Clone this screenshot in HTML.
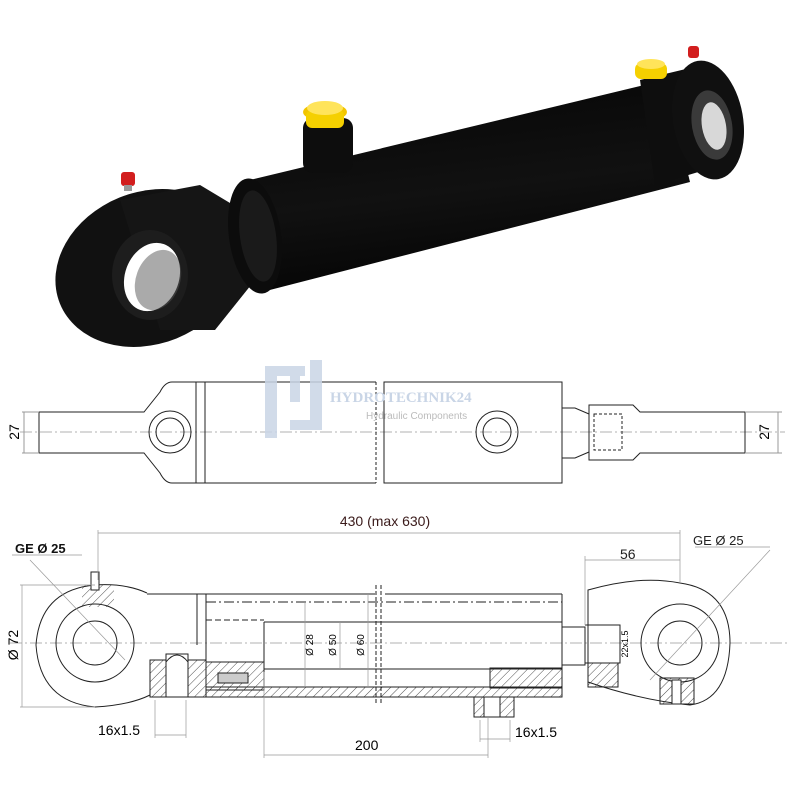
<!DOCTYPE html>
<html><head><meta charset="utf-8"><style>
html,body{margin:0;padding:0;background:#fff;width:800px;height:800px;overflow:hidden}
svg{display:block}
text{font-family:"Liberation Sans",Arial,sans-serif}
</style></head><body>
<svg width="800" height="800" viewBox="0 0 800 800" xmlns="http://www.w3.org/2000/svg">
<defs>
<pattern id="h" width="6" height="6" patternUnits="userSpaceOnUse" patternTransform="rotate(45)">
<line x1="0" y1="0" x2="0" y2="6" stroke="#222" stroke-width="0.8"/></pattern>
<linearGradient id="tube" x1="0" y1="0" x2="0.25" y2="1">
<stop offset="0" stop-color="#2a2a2a"/><stop offset="0.25" stop-color="#0a0a0a"/><stop offset="0.6" stop-color="#111"/><stop offset="1" stop-color="#050505"/></linearGradient>
</defs>
<rect width="800" height="800" fill="#fff"/>

<!-- PHOTO -->
<g>
<ellipse cx="148" cy="268" rx="95" ry="76" transform="rotate(-22 148 268)" fill="#111"/>
<polygon points="120,200 200,185 250,215 255,280 215,330 160,330" fill="#151515"/>
<ellipse cx="150" cy="275" rx="38" ry="45" fill="#1d1d1d"/>
<ellipse cx="152" cy="277" rx="27" ry="35" fill="#fff" transform="rotate(20 152 277)"/>
<ellipse cx="158" cy="280" rx="22" ry="31" fill="#555" transform="rotate(20 158 280)" opacity="0.5"/>
<rect x="121" y="172" width="14" height="14" rx="3" fill="#d21e1e"/>
<rect x="124" y="185" width="8" height="6" fill="#999"/>
<polygon points="240,215 262,205 270,270 250,280" fill="#222"/>
<polygon points="250,180 665,80 690,182 262,292" fill="url(#tube)"/>
<ellipse cx="255" cy="236" rx="26" ry="58" fill="#0c0c0c" transform="rotate(-8 255 236)"/>
<ellipse cx="258" cy="236" rx="18" ry="46" fill="#1a1a1a" transform="rotate(-8 258 236)"/>
<rect x="303" y="118" width="50" height="55" rx="10" fill="#0d0d0d"/>
<ellipse cx="325" cy="112" rx="22" ry="9" fill="#f2c400"/>
<rect x="306" y="110" width="38" height="18" rx="6" fill="#f5d000"/>
<ellipse cx="325" cy="108" rx="18" ry="7" fill="#ffe45a"/>
<polygon points="640,80 690,68 705,170 655,185" fill="#0e0e0e"/>
<ellipse cx="708" cy="120" rx="35" ry="60" fill="#101010" transform="rotate(-10 708 120)"/>
<ellipse cx="712" cy="125" rx="20" ry="35" fill="#3a3a3a" transform="rotate(-10 712 125)"/>
<ellipse cx="714" cy="126" rx="12" ry="24" fill="#d8d8d8" transform="rotate(-10 714 126)"/>
<rect x="635" y="63" width="32" height="16" rx="6" fill="#f5d000"/>
<ellipse cx="651" cy="64" rx="14" ry="5" fill="#ffe45a"/>
<rect x="688" y="46" width="11" height="12" rx="3" fill="#d21e1e"/>
</g>

<!-- TOP DRAWING -->
<g fill="none" stroke="#222" stroke-width="1">
<line x1="20" y1="432" x2="785" y2="432" stroke="#999" stroke-dasharray="12,3,2,3" stroke-width="0.7"/>
<path d="M376,382 H172 Q165,382 160,392 L144,412 H39 V453 H144 L160,473 Q165,483 172,483 H376"/>
<line x1="196" y1="382" x2="196" y2="483"/><line x1="205" y1="382" x2="205" y2="483"/>
<line x1="376" y1="382" x2="376" y2="483" stroke-dasharray="3,2"/>
<line x1="384" y1="382" x2="384" y2="483" stroke-dasharray="3,2"/>
<rect x="384" y="382" width="178" height="101"/>
<circle cx="170" cy="432" r="21"/><circle cx="170" cy="432" r="14"/>
<circle cx="497" cy="432" r="21"/><circle cx="497" cy="432" r="14"/>
<path d="M562,408 H575 L589,414 M562,458 H575 L589,452"/>
<path d="M589,405 H633 L640,412 H745 V453 H640 L633,460 H589 Z"/>
<rect x="594" y="414" width="28" height="36" stroke-dasharray="3,2"/>
<line x1="22" y1="412" x2="39" y2="412" stroke="#999"/><line x1="22" y1="453" x2="39" y2="453" stroke="#999"/>
<line x1="24" y1="412" x2="24" y2="453" stroke="#999"/>
<line x1="745" y1="412" x2="782" y2="412" stroke="#999"/><line x1="745" y1="453" x2="782" y2="453" stroke="#999"/>
<line x1="778" y1="412" x2="778" y2="453" stroke="#999"/>
</g>
<text x="19" y="432" font-size="14" transform="rotate(-90 19 432)" text-anchor="middle">27</text>
<text x="769" y="432" font-size="14" transform="rotate(-90 769 432)" text-anchor="middle">27</text>
<g fill="#c9d5e6" opacity="0.85">
<rect x="265" y="366" width="12" height="72"/><rect x="265" y="366" width="40" height="10"/>
<rect x="290" y="376" width="10" height="26"/><rect x="310" y="360" width="12" height="70"/>
<rect x="290" y="420" width="32" height="10"/>
</g>
<text x="330" y="402" font-size="15" font-weight="bold" fill="#c9d5e6" style="font-family:'Liberation Serif',serif">HYDROTECHNIK24</text>
<text x="366" y="419" font-size="10" fill="#bbb">Hydraulic Components</text>

<!-- BOTTOM DRAWING -->
<g fill="none" stroke="#222" stroke-width="1">
<line x1="10" y1="643" x2="790" y2="643" stroke="#999" stroke-dasharray="12,3,2,3" stroke-width="0.7"/>
<path d="M147,593 Q125,583 95,585 Q40,590 36,645 Q40,702 95,707 Q130,705 150,695"/>
<circle cx="95" cy="643" r="39"/><circle cx="95" cy="643" r="22"/>
<rect x="82" y="585" width="32" height="22" fill="url(#h)" stroke="none"/>
<path d="M91,572 h8 v18 h-8 z" fill="#fff"/>
<line x1="147" y1="594" x2="375" y2="594"/><line x1="385" y1="594" x2="562" y2="594"/>
<rect x="150" y="660" width="56" height="37" fill="url(#h)"/>
<rect x="166" y="654" width="22" height="43" fill="#fff"/>
<path d="M166,697 V662 Q177,648 188,662 V697"/>
<line x1="197" y1="594" x2="197" y2="645"/><line x1="206" y1="594" x2="206" y2="660"/>
<rect x="206" y="662" width="58" height="28" fill="url(#h)"/>
<rect x="218" y="673" width="30" height="10" fill="#ccc"/>
<rect x="206" y="687" width="356" height="10" fill="url(#h)"/>
<line x1="206" y1="602" x2="562" y2="602" stroke-dasharray="10,3,2,3"/>
<line x1="206" y1="620" x2="264" y2="620" stroke-dasharray="6,3"/>
<line x1="264" y1="622" x2="562" y2="622"/>
<line x1="264" y1="669" x2="562" y2="669"/>
<line x1="264" y1="622" x2="264" y2="669"/>
<line x1="376" y1="585" x2="376" y2="705" stroke-dasharray="4,2"/>
<line x1="381" y1="585" x2="381" y2="705" stroke-dasharray="4,2"/>
<rect x="490" y="668" width="72" height="20" fill="url(#h)"/>
<rect x="474" y="697" width="40" height="20" fill="url(#h)"/>
<rect x="484" y="697" width="16" height="20" fill="#fff"/>
<line x1="562" y1="594" x2="562" y2="697"/>
<path d="M562,627 H585 V665 H562"/>
<path d="M585,625 H620 V663 H585"/>
<path d="M588,590 Q640,575 680,583 Q730,590 730,643 Q728,700 690,705 Q640,700 588,682 Z"/>
<circle cx="680" cy="643" r="39"/><circle cx="680" cy="643" r="22"/>
<rect x="588" y="663" width="30" height="24" fill="url(#h)"/>
<rect x="660" y="678" width="34" height="26" fill="url(#h)"/>
<rect x="672" y="680" width="9" height="24" fill="#fff"/>
<g stroke="#999" stroke-width="0.7">
<line x1="98" y1="533" x2="680" y2="533"/><line x1="98" y1="530" x2="98" y2="580"/><line x1="680" y1="530" x2="680" y2="583"/>
<line x1="585" y1="560" x2="680" y2="560"/><line x1="585" y1="556" x2="585" y2="625"/>
<line x1="22" y1="585" x2="22" y2="707"/><line x1="20" y1="585" x2="95" y2="585"/><line x1="20" y1="707" x2="95" y2="707"/>
<line x1="12" y1="555" x2="82" y2="555"/><line x1="30" y1="560" x2="125" y2="660"/>
<line x1="695" y1="547" x2="770" y2="547"/><line x1="770" y1="550" x2="650" y2="680"/>
<line x1="155" y1="700" x2="155" y2="738"/><line x1="186" y1="700" x2="186" y2="738"/><line x1="155" y1="735" x2="186" y2="735"/>
<line x1="264" y1="672" x2="264" y2="758"/><line x1="488" y1="717" x2="488" y2="758"/><line x1="264" y1="755" x2="488" y2="755"/>
<line x1="480" y1="720" x2="480" y2="742"/><line x1="510" y1="720" x2="510" y2="742"/><line x1="480" y1="739" x2="510" y2="739"/>
<line x1="340" y1="622" x2="340" y2="669"/><line x1="305" y1="602" x2="305" y2="687"/><line x1="368" y1="594" x2="368" y2="687"/>
</g>
</g>
<text x="385" y="526" font-size="14" text-anchor="middle" fill="#3a1a1a">430 (max 630)</text>
<text x="15" y="553" font-size="13" font-weight="bold" fill="#111">GE Ø 25</text>
<text x="693" y="545" font-size="13" fill="#222">GE Ø 25</text>
<text x="620" y="559" font-size="14" fill="#222">56</text>
<text x="18" y="645" font-size="14" transform="rotate(-90 18 645)" text-anchor="middle">Ø 72</text>
<text x="98" y="735" font-size="14">16x1.5</text>
<text x="355" y="750" font-size="14">200</text>
<text x="515" y="737" font-size="14">16x1.5</text>
<text x="313" y="645" font-size="10" transform="rotate(-90 313 645)" text-anchor="middle">Ø 28</text>
<text x="336" y="645" font-size="10" transform="rotate(-90 336 645)" text-anchor="middle">Ø 50</text>
<text x="364" y="645" font-size="10" transform="rotate(-90 364 645)" text-anchor="middle">Ø 60</text>
<text x="628" y="644" font-size="9" transform="rotate(-90 628 644)" text-anchor="middle">22x1.5</text>
</svg>
</body></html>
